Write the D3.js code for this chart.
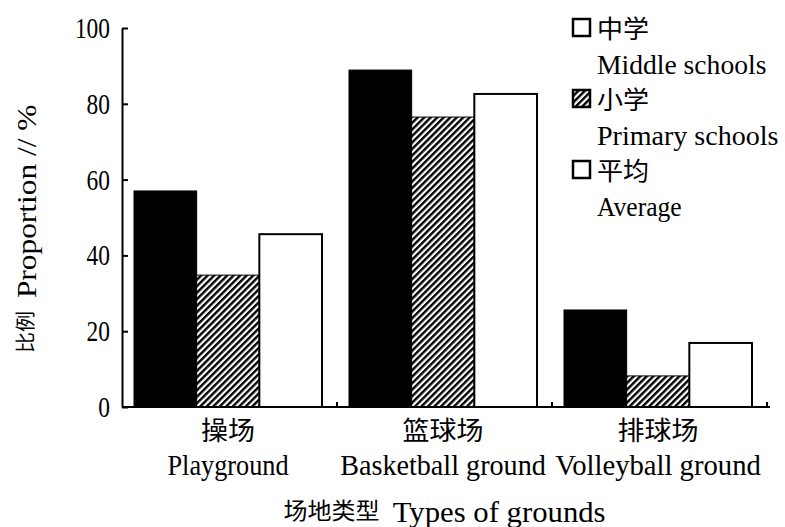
<!DOCTYPE html>
<html>
<head>
<meta charset="utf-8">
<script src="https://cdn.jsdelivr.net/npm/d3@7"></script>
<style>
  body { margin: 0; background: #fff; }
  text { fill: #000; }
</style>
</head>
<body>
<div id="root"></div>
<script>
"use strict";

/* ************************************* Data ******************************** */

const categoriesZh = ["操场", "篮球场", "排球场"];
const categoriesEn = ["Playground", "Basketball ground", "Volleyball ground"];

const seriesKeys = ["middle", "primary", "average"];
const seriesZh = ["中学", "小学", "平均"];
const seriesEn = ["Middle schools", "Primary schools", "Average"];

const middleValues = [57.0, 88.9, 25.6];
const primaryValues = [34.8, 76.5, 8.2];
const averageValues = [45.6, 82.6, 16.9];

const yTicks = [0, 20, 40, 60, 80, 100];

/* ************************************* Set up ******************************** */

const width = 785;
const height = 527;

const plot = { left: 122, right: 767, top: 28, bottom: 407 };

const cjkFont = "'Noto Sans CJK SC', 'Noto Sans CJK TC', sans-serif";
const latinFont = "'Liberation Serif', 'DejaVu Serif', serif";

let svg = d3.select('#root')
    .append('svg')
    .attr('width', width)
    .attr('height', height);

// stripe pattern for primary schools
let defs = svg.append('defs');
let pat = defs.append('pattern')
    .attr('id', 'hatch')
    .attr('patternUnits', 'userSpaceOnUse')
    .attr('width', 4.6)
    .attr('height', 4.6)
    .attr('patternTransform', 'rotate(45)');
pat.append('rect').attr('width', 4.6).attr('height', 4.6).attr('fill', '#fff');
pat.append('rect').attr('width', 2.4).attr('height', 4.6).attr('fill', '#000');

const fills = { middle: '#000', primary: 'url(#hatch)', average: '#fff' };
const legendFills = { middle: '#fff', primary: 'url(#hatch)', average: '#fff' };

// long format rows
const valuesByKey = { middle: middleValues, primary: primaryValues, average: averageValues };
let rows = [];
categoriesZh.forEach((c, i) => {
    seriesKeys.forEach((k) => {
        rows.push({ cat: c, key: k, value: valuesByKey[k][i] });
    });
});

/* ************************************* Scales ******************************** */

let xScale = d3.scaleBand()
    .domain(categoriesZh)
    .range([plot.left, plot.right])
    .padding(0);

let xSub = d3.scaleBand()
    .domain(seriesKeys)
    .range([12, 200])
    .padding(0);

let yScale = d3.scaleLinear()
    .domain([0, 100])
    .range([plot.bottom, plot.top]);

/* ************************************* Text helper ******************************** */

// draws a row of CJK / latin pieces with fixed per-character widths
function drawMixed(g, x, y, parts, anchor, cw, lw, size) {
    let widths = parts.map((p) => p.s.length * (p.cjk ? cw : lw));
    let total = d3.sum(widths) + lw * (parts.length - 1);
    let cur = anchor === 'middle' ? x - total / 2 : (anchor === 'end' ? x - total : x);
    parts.forEach((p, i) => {
        g.append('text')
            .attr('x', cur)
            .attr('y', p.cjk ? y - 3 : y)
            .attr('font-family', p.cjk ? cjkFont : latinFont)
            .attr('font-size', p.cjk ? cw * 0.95 : size)
            .attr('textLength', widths[i])
            .attr('lengthAdjust', 'spacingAndGlyphs')
            .text(p.s);
        cur += widths[i] + lw;
    });
}

/* ************************************* Bars ******************************** */

let barsG = svg.append('g');

barsG.selectAll('rect')
    .data(rows)
    .enter().append('rect')
    .attr('x', (d) => xScale(d.cat) + xSub(d.key))
    .attr('width', xSub.bandwidth())
    .attr('y', (d) => yScale(d.value))
    .attr('height', (d) => yScale(0) - yScale(d.value))
    .attr('fill', (d) => fills[d.key])
    .attr('stroke', '#000')
    .attr('stroke-width', (d) => d.key === 'average' ? 2 : 1);

/* ************************************* Axes ******************************** */

let yAxis = d3.axisLeft(yScale)
    .tickValues(yTicks)
    .tickSizeInner(-6)
    .tickSizeOuter(0)
    .tickPadding(12)
    .tickFormat('');

let yAxisG = svg.append('g')
    .attr('transform', `translate(${plot.left},0)`)
    .call(yAxis);
yAxisG.selectAll('path, line').attr('stroke', '#000').attr('stroke-width', 2);

// tick numbers
yTicks.forEach((t) => {
    drawMixed(svg, plot.left - 12, yScale(t) + 10, [{ s: String(t) }], 'end', 0, 11.7, 30);
});

// x axis line with short upward ticks at category edges
svg.append('line')
    .attr('x1', plot.left).attr('x2', plot.right + 3)
    .attr('y1', yScale(0)).attr('y2', yScale(0))
    .attr('stroke', '#000').attr('stroke-width', 2);

svg.selectAll('.xtick')
    .data(categoriesZh)
    .enter().append('line')
    .attr('class', 'xtick')
    .attr('x1', (d) => xScale(d) + xScale.bandwidth())
    .attr('x2', (d) => xScale(d) + xScale.bandwidth())
    .attr('y1', yScale(0))
    .attr('y2', yScale(0) - 5)
    .attr('stroke', '#000').attr('stroke-width', 2);

// category labels
categoriesZh.forEach((c, i) => {
    let cx = xScale(c) + (xSub.range()[0] + xSub.range()[1]) / 2;
    drawMixed(svg, cx, 443, [{ s: c, cjk: true }], 'middle', 27, 12.5, 30);
    drawMixed(svg, cx, 475, [{ s: categoriesEn[i] }], 'middle', 27, 12.1, 30);
});

// x axis title
drawMixed(svg, (plot.left + plot.right) / 2, 522,
    [{ s: '场地类型', cjk: true }, { s: 'Types of grounds' }], 'middle', 24, 13.3, 30);

// y axis title
let yTitle = svg.append('g')
    .attr('transform', `translate(36,353) rotate(-90)`);
drawMixed(yTitle, 0, 0,
    [{ s: '比例', cjk: true }, { s: 'Proportion // %' }], 'start', 21, 12.9, 28);

/* ************************************* Legend ******************************** */

let legend = svg.append('g').attr('transform', 'translate(572,18)');

seriesKeys.forEach((k, i) => {
    let row = legend.append('g').attr('transform', `translate(0,${i * 71})`);
    row.append('rect')
        .attr('x', 1).attr('y', 1)
        .attr('width', 17).attr('height', 17)
        .attr('fill', legendFills[k])
        .attr('stroke', '#000')
        .attr('stroke-width', 2.5);
    drawMixed(row, 25, 23, [{ s: seriesZh[i], cjk: true }], 'start', 26, 12.4, 30);
    drawMixed(row, 25, 56, [{ s: seriesEn[i] }], 'start', 26, 12.1, 27);
});
</script>
</body>
</html>
